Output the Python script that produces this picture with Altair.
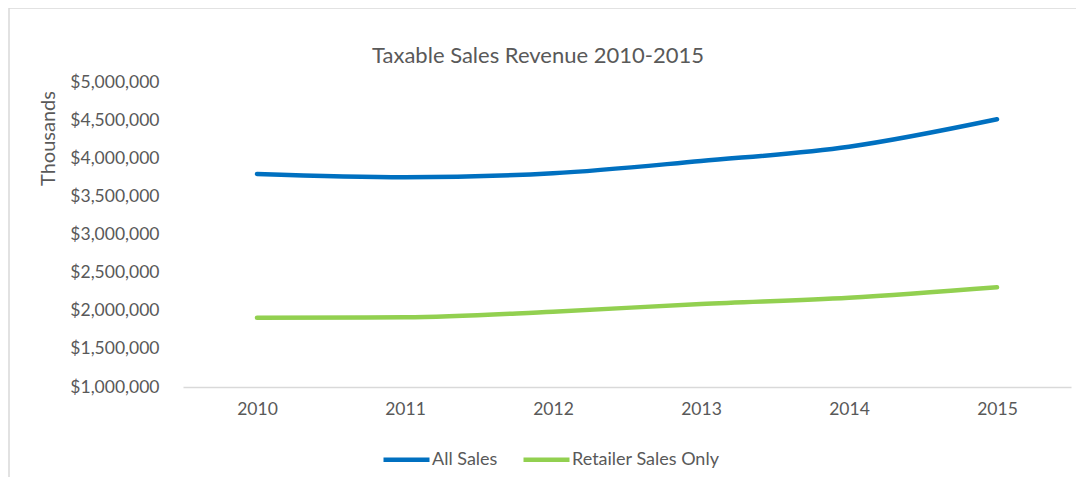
import altair as alt
import pandas as pd

years = ["2010", "2011", "2012", "2013", "2014", "2015"]
all_sales = [3793000, 3750000, 3803000, 3964000, 4151000, 4511000]
retailer_sales = [1909000, 1914000, 1988000, 2089000, 2171000, 2308000]
series_names = ["All Sales", "Retailer Sales Only"]
series_colors = ["#0070C0", "#92D050"]

rows = []
for name, vals in zip(series_names, [all_sales, retailer_sales]):
    for y, v in zip(years, vals):
        rows.append({"Year": y, "Value": v, "Series": name})
df = pd.DataFrame(rows)

FONT = "Lato"
TXT = "#595959"

frame = alt.Chart(pd.DataFrame({"a": [0]})).mark_rect(
    fill="transparent", stroke="#D9D9D9", strokeWidth=1.5
).encode(
    x=alt.value(-174), x2=alt.value(940), y=alt.value(-74), y2=alt.value(420)
)

lines = alt.Chart(df).mark_line(strokeWidth=4.5, strokeCap="round", interpolate="monotone").encode(
    x=alt.X("Year:N", sort=years,
            scale=alt.Scale(type="point", padding=0.5),
            axis=alt.Axis(title=None, labelAngle=0, ticks=False, grid=False,
                          domainColor="#D9D9D9", domainWidth=1.5,
                          labelFont=FONT, labelFontSize=17.5, labelColor=TXT,
                          labelPadding=13)),
    y=alt.Y("Value:Q",
            scale=alt.Scale(domain=[1000000, 5000000], nice=False, zero=False),
            axis=alt.Axis(title="Thousands", format="$,.0f",
                          values=[1000000, 1500000, 2000000, 2500000, 3000000,
                                  3500000, 4000000, 4500000, 5000000],
                          grid=False, domain=False, ticks=False, tickSize=0,
                          labelFont=FONT, labelFontSize=17.5, labelColor=TXT,
                          labelPadding=24,
                          titleFont=FONT, titleFontSize=20, titleFontWeight="normal",
                          titleColor=TXT, titleAngle=270, titleX=-135, titleY=56,
                          titleAlign="center", titleBaseline="middle")),
    color=alt.Color("Series:N", sort=series_names,
                    scale=alt.Scale(domain=series_names, range=series_colors),
                    legend=alt.Legend(title=None, orient="none", direction="horizontal",
                                      legendX=198, legendY=352,
                                      symbolType="stroke", symbolSize=2116,
                                      symbolStrokeWidth=4.5,
                                      labelFont=FONT, labelFontSize=18, labelColor=TXT,
                                      labelOffset=0, columnPadding=16)),
)

chart = alt.layer(frame, lines).properties(
    width=888,
    height=305,
    autosize=alt.AutoSizeParams(type="none"),
    padding={"left": 175, "top": 74, "right": 5, "bottom": 90},
    title=alt.Title("Taxable Sales Revenue 2010-2015", font=FONT, fontSize=22,
                    fontWeight="normal", color=TXT, anchor="middle", frame="group",
                    baseline="alphabetic", dx=-89, dy=78, offset=0),
).configure(background="white").configure_view(stroke=None)

chart.save("out.html", embed_options={"renderer": "svg", "actions": False})
